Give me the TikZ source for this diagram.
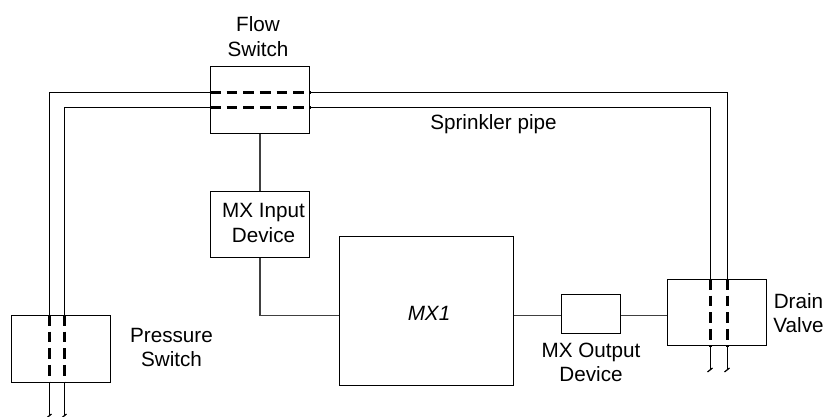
\documentclass[tikz,border=0pt]{standalone}
\usepackage{fontspec}
\setmainfont{Liberation Sans}
\usetikzlibrary{positioning}
\tikzset{
  devbox/.style={draw,line width=0.9pt,minimum width=74.25pt,minimum height=50.25pt,inner sep=0pt},
  lbl/.style={align=center,font=\fontsize{15.5}{18.5}\selectfont,inner sep=0pt},
  pipe/.style={line width=0.9pt},
  pipein/.style={line width=1.6pt,dash pattern=on 8pt off 4.5pt},
  wire/.style={line width=1pt,black!75}
}
\begin{document}
\begin{tikzpicture}[x=0.75pt,y=-0.75pt]
        \useasboundingbox (0,0) rectangle (824,417);
        \node[devbox] (flow) at (260,100) {};
        \node[devbox] (pressure) at (61,349) {};
        \node[devbox,minimum height=49.5pt] (drain) at (717,312.5) {};
        \node[devbox,minimum height=49.5pt] (input) at (260,224.5) {};
        \node[draw,line width=0.9pt,minimum width=130.5pt,minimum height=111.75pt,inner sep=0pt] (mx1) at (426.5,311) {};
        \node[draw,line width=0.9pt,minimum width=44.25pt,minimum height=29.25pt,inner sep=0pt] (output) at (591,314) {};
        % labels
        \node[lbl] (flowtext) at (258,36.5) {Flow\\Switch};
        \node[lbl] (inputtext) at (263.5,223) {MX Input\\Device};
        \node[lbl,font=\fontsize{15.5}{18.5}\selectfont\itshape] (mxtext) at (429,313) {MX1};
        \node[lbl] (pressuretext) at (171.5,347.5) {Pressure\\Switch};
        \node[lbl] (draintext) at (798.5,313) {Drain\\Valve};
        \node[lbl] (outputtext) at (591,362.5) {MX Output\\Device};
        \node[lbl] (pipetext) at (493.5,124) {Sprinkler pipe};
        % pipe corners
        \coordinate (outerl) at (49.5,92.5);
        \coordinate (innerl) at (64.5,107.5);
        \coordinate (outerr) at (727.5,92.5);
        \coordinate (innerr) at (710.5,107.5);
        \coordinate (outerlend) at (49.5,416);
        \coordinate (innerlend) at (64.5,416);
        \coordinate (outerrend) at (727.5,370);
        \coordinate (innerrend) at (710.5,370);
        \coordinate (wirelevel) at (0,315.5);
        % pipes
        \draw[pipe] (flow.west |- outerl) -- (outerl) -- (outerl |- pressure.north);
        \draw[pipe] (flow.west |- innerl) -- (innerl) -- (innerl |- pressure.north);
        \draw[pipe] (flow.east |- outerl) -- (outerr) -- (outerr |- drain.north);
        \draw[pipe] (flow.east |- innerl) -- (innerr) -- (innerr |- drain.north);
        \draw[pipein] (flow.west |- outerl) -- (flow.east |- outerl);
        \draw[pipein] (flow.west |- innerl) -- (flow.east |- innerl);
        \draw[pipein] (outerl |- pressure.north) -- (outerl |- pressure.south);
        \draw[pipein] (innerl |- pressure.north) -- (innerl |- pressure.south);
        \draw[pipein] (outerr |- drain.north) -- (outerr |- drain.south);
        \draw[pipein] (innerr |- drain.north) -- (innerr |- drain.south);
        % open ends
        \draw[pipe] (outerl |- pressure.south) -- (outerlend);
        \draw[pipe] (innerl |- pressure.south) -- (innerlend);
        \draw[pipe] (outerr |- drain.south) -- (outerrend);
        \draw[pipe] (innerr |- drain.south) -- (innerrend);
        \draw[pipe] ([shift={(2,-2)}]outerlend) -- ++(-5,4);
        \draw[pipe] ([shift={(2,-2)}]innerlend) -- ++(-5,4);
        \draw[pipe] ([shift={(2,-2)}]outerrend) -- ++(-5,4);
        \draw[pipe] ([shift={(2,-2)}]innerrend) -- ++(-5,4);
        % wiring
        \draw[wire] (flow) -- (input);
        \draw[wire] (input.south) |- (mx1.west |- wirelevel);
        \draw[wire] (mx1.east |- wirelevel) -- (output.west |- wirelevel);
        \draw[wire] (output.east |- wirelevel) -- (drain.west |- wirelevel);
    \end{tikzpicture}
\end{document}
